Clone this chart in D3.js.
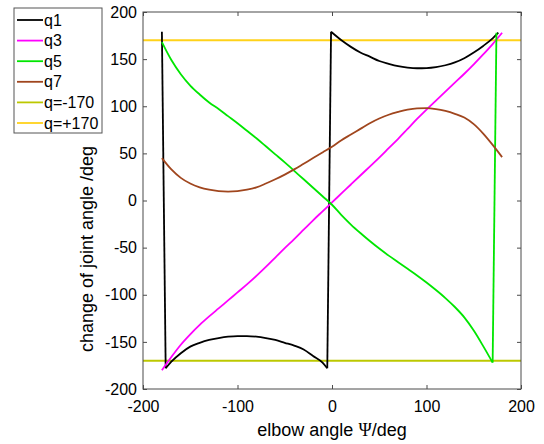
<!DOCTYPE html>
<html>
<head>
<meta charset="utf-8">
<script src="https://cdn.jsdelivr.net/npm/d3@7"></script>
<style>
  body { margin: 0; background: #fff; }
  svg { display: block; font-family: "Liberation Sans", Arial, sans-serif; }
</style>
</head>
<body>
<svg width="544" height="444"></svg>
<script>
// values (deg)
const psi = [-180, -170, -160, -150, -140, -130, -120, -110, -100, -90, -80, -70, -60, -50, -40, -30, -20, -10, 0,
  10, 20, 30, 40, 50, 60, 70, 80, 90, 100, 110, 120, 130, 140, 150, 160, 170, 180];

const q1Psi = [-180, -176, -170, -160, -150, -140, -130, -120, -110, -100, -90, -80, -70, -60, -50, -40, -30, -20, -10, -5,
  -1, 10, 20, 30, 40, 50, 60, 70, 80, 90, 100, 110, 120, 130, 140, 150, 160, 170, 176];
const q1 = [179, -178, -171, -162, -155, -151, -148, -146, -144.5, -143.8, -143.8, -144.5, -146, -148, -151, -154, -158, -165, -172, -178,
  179, 170, 163, 157, 152.6, 148, 145, 142.5, 141, 140.3, 140.5, 141.5, 143.5, 146.5, 151, 157, 164, 172, 178];

const q3 = [-180, -166, -153, -142, -132, -123, -114.5, -106, -97.5, -89, -80, -70.5, -60.5, -50.5, -41, -31, -21, -11.5, -2,
  7.5, 17, 26.5, 36, 45.5, 55.5, 65.5, 76, 86.5, 96.5, 106, 115.5, 125, 134.5, 144.5, 155, 166, 178];

const q5Psi = [-180, -170, -160, -150, -140, -130, -120, -110, -100, -90, -80, -70, -60, -50, -40, -30, -20, -10, 0,
  10, 20, 30, 40, 50, 60, 70, 80, 90, 100, 110, 120, 130, 140, 150, 160, 170, 174];
const q5 = [168, 149, 134, 122, 112.5, 104, 97, 89.5, 82, 74, 66, 57.5, 49, 40.5, 31.5, 22.5, 13.5, 4.5, -4.5,
  -15.5, -25.5, -34.5, -43, -51, -58.5, -65.5, -72.5, -79.5, -87, -95, -103.5, -113, -124, -138, -154.5, -172, 178];

const q7 = [45, 33, 24, 18, 14, 11.5, 10, 9.5, 10, 11.5, 14, 18, 22.5, 27.5, 33, 39, 45, 51, 57,
  64, 70, 76, 82, 87, 91, 94, 96.5, 97.8, 98, 97, 95, 92, 88, 81, 71, 59, 46];

const limits = [-170, 170];
const labels = ['q1', 'q3', 'q5', 'q7', 'q=-170', 'q=+170'];
const colors = ['#000000', '#ff00ff', '#00e600', '#a0461e', '#bcc800', '#ffd21a'];
const xTicks = [-200, -100, 0, 100, 200];
const yTicks = [-200, -150, -100, -50, 0, 50, 100, 150, 200];

const svg = d3.select('svg');
const pLeft = 143, pRight = 521, pTop = 12, pBottom = 389;

const x = d3.scaleLinear().domain([-200, 200]).range([pLeft, pRight]);
const y = d3.scaleLinear().domain([-200, 200]).range([pBottom, pTop]);

const zip = (xs, ys) => xs.map((v, i) => [v, ys[i]]);
const series = [
  zip(q1Psi, q1),
  zip(psi, q3),
  zip(q5Psi, q5),
  zip(psi, q7)
];

const smooth = d3.line().x(d => x(d[0])).y(d => y(d[1])).curve(d3.curveMonotoneX);
const straight = d3.line().x(d => x(d[0])).y(d => y(d[1]));

// split a series at the big wrap-around jumps so the corners stay sharp
const pieces = pts => {
  const out = [];
  let cur = [pts[0]];
  for (let i = 1; i < pts.length; i++) {
    if (Math.abs(pts[i][1] - pts[i - 1][1]) > 100) {
      out.push({ d: cur, smooth: true });
      out.push({ d: [pts[i - 1], pts[i]], smooth: false });
      cur = [pts[i]];
    } else {
      cur.push(pts[i]);
    }
  }
  out.push({ d: cur, smooth: true });
  return out.filter(p => p.d.length > 1);
};

const plot = svg.append('g');

// limit lines
limits.forEach((v, i) => {
  plot.append('line')
    .attr('x1', x(-200)).attr('x2', x(200))
    .attr('y1', y(v)).attr('y2', y(v))
    .attr('stroke', colors[4 + i])
    .attr('stroke-width', 2);
});

series.forEach((s, i) => {
  pieces(s).forEach(p => {
    plot.append('path')
      .attr('d', p.smooth ? smooth(p.d) : straight(p.d))
      .attr('fill', 'none')
      .attr('stroke', colors[i])
      .attr('stroke-width', 1.8)
      .attr('stroke-linejoin', 'round');
  });
});

// axes, matlab style box with inward ticks
const axisColor = '#4a4a4a';
const styleAxis = g => {
  g.select('.domain').remove();
  g.selectAll('.tick line').attr('stroke', axisColor);
  g.selectAll('.tick text').attr('fill', '#000').style('font-size', '16px');
};

svg.append('g').attr('transform', `translate(0,${pBottom})`)
  .call(d3.axisBottom(x).tickValues(xTicks).tickSize(-4).tickPadding(12).tickFormat(d3.format('d')))
  .call(styleAxis);
svg.append('g').attr('transform', `translate(0,${pTop})`)
  .call(d3.axisTop(x).tickValues(xTicks).tickSize(-4).tickFormat(''))
  .call(styleAxis);
svg.append('g').attr('transform', `translate(${pLeft},0)`)
  .call(d3.axisLeft(y).tickValues(yTicks).tickSize(-4).tickPadding(6).tickFormat(d3.format('d')))
  .call(styleAxis);
svg.append('g').attr('transform', `translate(${pRight},0)`)
  .call(d3.axisRight(y).tickValues(yTicks).tickSize(-4).tickFormat(''))
  .call(styleAxis);

svg.selectAll('.tick text').text(function () { return this.textContent.replace('−', '-'); });

svg.append('rect')
  .attr('x', pLeft).attr('y', pTop)
  .attr('width', pRight - pLeft).attr('height', pBottom - pTop)
  .attr('fill', 'none').attr('stroke', axisColor).attr('stroke-width', 1);

// axis titles
const xt = svg.append('text')
  .attr('x', 332).attr('y', 436)
  .attr('text-anchor', 'middle')
  .style('font-size', '18px');
xt.append('tspan').text('elbow angle  ');
xt.append('tspan').style('font-family', '"Liberation Serif", serif').text('Ψ');
xt.append('tspan').text('/deg');

svg.append('text')
  .attr('transform', 'translate(93,249) rotate(-90)')
  .attr('text-anchor', 'middle')
  .style('font-size', '18px')
  .text('change of joint angle /deg');

// legend
const legend = svg.append('g');
legend.append('rect')
  .attr('x', 14).attr('y', 8).attr('width', 88).attr('height', 125)
  .attr('fill', '#fff').attr('stroke', '#555').attr('stroke-width', 1);
labels.forEach((l, i) => {
  const ly = 20 + i * 20.6;
  legend.append('line')
    .attr('x1', 17).attr('x2', 43).attr('y1', ly).attr('y2', ly)
    .attr('stroke', colors[i]).attr('stroke-width', 1.8);
  legend.append('text')
    .attr('x', 44).attr('y', ly).attr('dy', '0.35em')
    .style('font-size', '16px')
    .text(l);
});
</script>
</body>
</html>
